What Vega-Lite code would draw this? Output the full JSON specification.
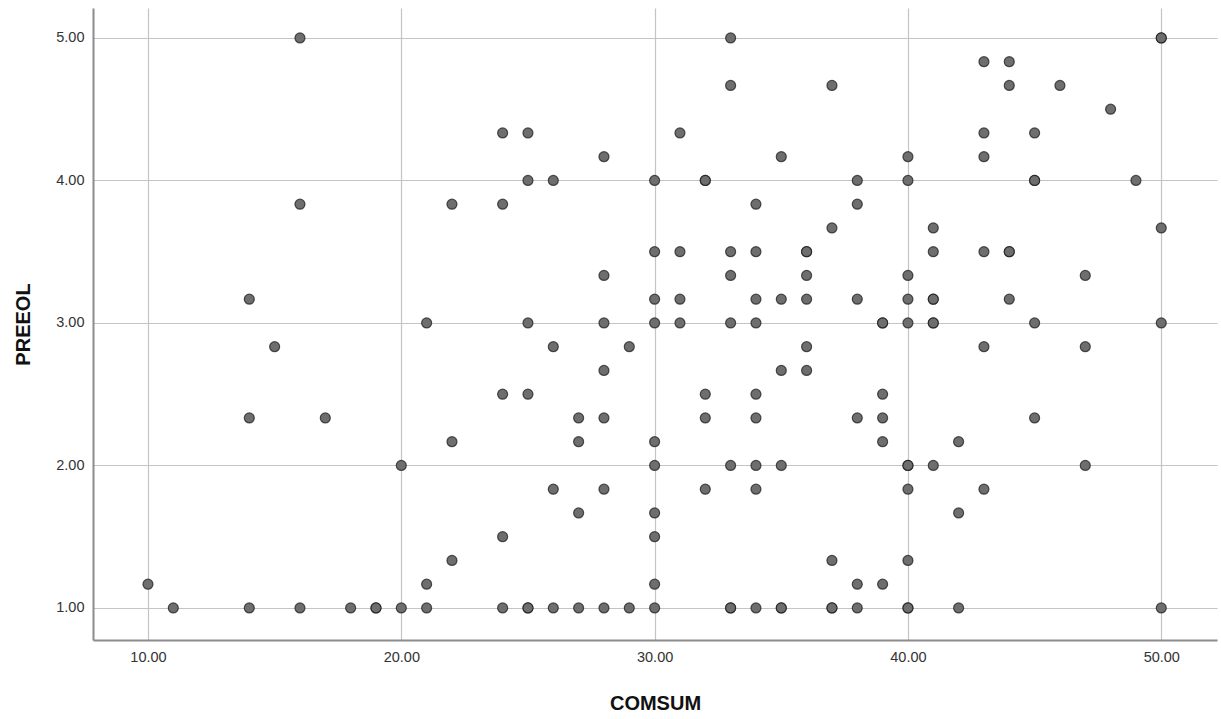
{
  "$schema": "https://vega.github.io/schema/vega-lite/v6.json",
  "width": 1124,
  "height": 632,
  "autosize": {"type": "none"},
  "padding": {"left": 93, "top": 8, "right": 4, "bottom": 79},
  "background": "white",
  "config": {
    "view": {"stroke": null},
    "font": "Liberation Sans",
    "axis": {
      "labelFont": "Liberation Sans",
      "titleFont": "Liberation Sans",
      "labelFontSize": 14.5,
      "labelColor": "#333333",
      "titleFontSize": 20,
      "titleFontWeight": "bold",
      "titleColor": "#111111",
      "gridColor": "#c4c4c4",
      "gridWidth": 1.2,
      "domainColor": "#8c8c8c",
      "domainWidth": 2,
      "ticks": false
    }
  },
  "data": {
    "values": [
      {"COMSUM": 10, "PREEOL": 1.1667},
      {"COMSUM": 11, "PREEOL": 1.0},
      {"COMSUM": 14, "PREEOL": 3.1667},
      {"COMSUM": 14, "PREEOL": 2.3333},
      {"COMSUM": 14, "PREEOL": 1.0},
      {"COMSUM": 15, "PREEOL": 2.8333},
      {"COMSUM": 16, "PREEOL": 5.0},
      {"COMSUM": 16, "PREEOL": 3.8333},
      {"COMSUM": 16, "PREEOL": 1.0},
      {"COMSUM": 17, "PREEOL": 2.3333},
      {"COMSUM": 18, "PREEOL": 1.0},
      {"COMSUM": 19, "PREEOL": 1.0},
      {"COMSUM": 19, "PREEOL": 1.0},
      {"COMSUM": 20, "PREEOL": 2.0},
      {"COMSUM": 20, "PREEOL": 1.0},
      {"COMSUM": 21, "PREEOL": 3.0},
      {"COMSUM": 21, "PREEOL": 1.1667},
      {"COMSUM": 21, "PREEOL": 1.0},
      {"COMSUM": 22, "PREEOL": 3.8333},
      {"COMSUM": 22, "PREEOL": 2.1667},
      {"COMSUM": 22, "PREEOL": 1.3333},
      {"COMSUM": 24, "PREEOL": 4.3333},
      {"COMSUM": 24, "PREEOL": 3.8333},
      {"COMSUM": 24, "PREEOL": 2.5},
      {"COMSUM": 24, "PREEOL": 1.5},
      {"COMSUM": 24, "PREEOL": 1.0},
      {"COMSUM": 25, "PREEOL": 4.3333},
      {"COMSUM": 25, "PREEOL": 4.0},
      {"COMSUM": 25, "PREEOL": 3.0},
      {"COMSUM": 25, "PREEOL": 2.5},
      {"COMSUM": 25, "PREEOL": 1.0},
      {"COMSUM": 25, "PREEOL": 1.0},
      {"COMSUM": 26, "PREEOL": 4.0},
      {"COMSUM": 26, "PREEOL": 2.8333},
      {"COMSUM": 26, "PREEOL": 1.8333},
      {"COMSUM": 26, "PREEOL": 1.0},
      {"COMSUM": 27, "PREEOL": 2.3333},
      {"COMSUM": 27, "PREEOL": 2.1667},
      {"COMSUM": 27, "PREEOL": 1.6667},
      {"COMSUM": 27, "PREEOL": 1.0},
      {"COMSUM": 28, "PREEOL": 4.1667},
      {"COMSUM": 28, "PREEOL": 3.3333},
      {"COMSUM": 28, "PREEOL": 3.0},
      {"COMSUM": 28, "PREEOL": 2.6667},
      {"COMSUM": 28, "PREEOL": 2.3333},
      {"COMSUM": 28, "PREEOL": 1.8333},
      {"COMSUM": 28, "PREEOL": 1.0},
      {"COMSUM": 29, "PREEOL": 2.8333},
      {"COMSUM": 29, "PREEOL": 1.0},
      {"COMSUM": 30, "PREEOL": 4.0},
      {"COMSUM": 30, "PREEOL": 3.5},
      {"COMSUM": 30, "PREEOL": 3.1667},
      {"COMSUM": 30, "PREEOL": 3.0},
      {"COMSUM": 30, "PREEOL": 2.1667},
      {"COMSUM": 30, "PREEOL": 2.0},
      {"COMSUM": 30, "PREEOL": 1.6667},
      {"COMSUM": 30, "PREEOL": 1.5},
      {"COMSUM": 30, "PREEOL": 1.1667},
      {"COMSUM": 30, "PREEOL": 1.0},
      {"COMSUM": 31, "PREEOL": 4.3333},
      {"COMSUM": 31, "PREEOL": 3.5},
      {"COMSUM": 31, "PREEOL": 3.1667},
      {"COMSUM": 31, "PREEOL": 3.0},
      {"COMSUM": 32, "PREEOL": 4.0},
      {"COMSUM": 32, "PREEOL": 4.0},
      {"COMSUM": 32, "PREEOL": 2.5},
      {"COMSUM": 32, "PREEOL": 2.3333},
      {"COMSUM": 32, "PREEOL": 1.8333},
      {"COMSUM": 33, "PREEOL": 5.0},
      {"COMSUM": 33, "PREEOL": 4.6667},
      {"COMSUM": 33, "PREEOL": 3.5},
      {"COMSUM": 33, "PREEOL": 3.3333},
      {"COMSUM": 33, "PREEOL": 3.0},
      {"COMSUM": 33, "PREEOL": 2.0},
      {"COMSUM": 33, "PREEOL": 1.0},
      {"COMSUM": 33, "PREEOL": 1.0},
      {"COMSUM": 34, "PREEOL": 3.8333},
      {"COMSUM": 34, "PREEOL": 3.5},
      {"COMSUM": 34, "PREEOL": 3.1667},
      {"COMSUM": 34, "PREEOL": 3.0},
      {"COMSUM": 34, "PREEOL": 2.5},
      {"COMSUM": 34, "PREEOL": 2.3333},
      {"COMSUM": 34, "PREEOL": 2.0},
      {"COMSUM": 34, "PREEOL": 1.8333},
      {"COMSUM": 34, "PREEOL": 1.0},
      {"COMSUM": 35, "PREEOL": 4.1667},
      {"COMSUM": 35, "PREEOL": 3.1667},
      {"COMSUM": 35, "PREEOL": 2.6667},
      {"COMSUM": 35, "PREEOL": 2.0},
      {"COMSUM": 35, "PREEOL": 1.0},
      {"COMSUM": 35, "PREEOL": 1.0},
      {"COMSUM": 36, "PREEOL": 3.5},
      {"COMSUM": 36, "PREEOL": 3.5},
      {"COMSUM": 36, "PREEOL": 3.3333},
      {"COMSUM": 36, "PREEOL": 3.1667},
      {"COMSUM": 36, "PREEOL": 2.8333},
      {"COMSUM": 36, "PREEOL": 2.6667},
      {"COMSUM": 37, "PREEOL": 4.6667},
      {"COMSUM": 37, "PREEOL": 3.6667},
      {"COMSUM": 37, "PREEOL": 1.3333},
      {"COMSUM": 37, "PREEOL": 1.0},
      {"COMSUM": 37, "PREEOL": 1.0},
      {"COMSUM": 38, "PREEOL": 4.0},
      {"COMSUM": 38, "PREEOL": 3.8333},
      {"COMSUM": 38, "PREEOL": 3.1667},
      {"COMSUM": 38, "PREEOL": 2.3333},
      {"COMSUM": 38, "PREEOL": 1.1667},
      {"COMSUM": 38, "PREEOL": 1.0},
      {"COMSUM": 39, "PREEOL": 3.0},
      {"COMSUM": 39, "PREEOL": 3.0},
      {"COMSUM": 39, "PREEOL": 2.5},
      {"COMSUM": 39, "PREEOL": 2.3333},
      {"COMSUM": 39, "PREEOL": 2.1667},
      {"COMSUM": 39, "PREEOL": 1.1667},
      {"COMSUM": 40, "PREEOL": 4.1667},
      {"COMSUM": 40, "PREEOL": 4.0},
      {"COMSUM": 40, "PREEOL": 3.3333},
      {"COMSUM": 40, "PREEOL": 3.1667},
      {"COMSUM": 40, "PREEOL": 3.0},
      {"COMSUM": 40, "PREEOL": 2.0},
      {"COMSUM": 40, "PREEOL": 2.0},
      {"COMSUM": 40, "PREEOL": 1.8333},
      {"COMSUM": 40, "PREEOL": 1.3333},
      {"COMSUM": 40, "PREEOL": 1.0},
      {"COMSUM": 40, "PREEOL": 1.0},
      {"COMSUM": 41, "PREEOL": 3.6667},
      {"COMSUM": 41, "PREEOL": 3.5},
      {"COMSUM": 41, "PREEOL": 3.1667},
      {"COMSUM": 41, "PREEOL": 3.1667},
      {"COMSUM": 41, "PREEOL": 3.0},
      {"COMSUM": 41, "PREEOL": 3.0},
      {"COMSUM": 41, "PREEOL": 2.0},
      {"COMSUM": 42, "PREEOL": 2.1667},
      {"COMSUM": 42, "PREEOL": 1.6667},
      {"COMSUM": 42, "PREEOL": 1.0},
      {"COMSUM": 43, "PREEOL": 4.8333},
      {"COMSUM": 43, "PREEOL": 4.3333},
      {"COMSUM": 43, "PREEOL": 4.1667},
      {"COMSUM": 43, "PREEOL": 3.5},
      {"COMSUM": 43, "PREEOL": 2.8333},
      {"COMSUM": 43, "PREEOL": 1.8333},
      {"COMSUM": 44, "PREEOL": 4.8333},
      {"COMSUM": 44, "PREEOL": 4.6667},
      {"COMSUM": 44, "PREEOL": 3.5},
      {"COMSUM": 44, "PREEOL": 3.5},
      {"COMSUM": 44, "PREEOL": 3.1667},
      {"COMSUM": 45, "PREEOL": 4.3333},
      {"COMSUM": 45, "PREEOL": 4.0},
      {"COMSUM": 45, "PREEOL": 4.0},
      {"COMSUM": 45, "PREEOL": 3.0},
      {"COMSUM": 45, "PREEOL": 2.3333},
      {"COMSUM": 46, "PREEOL": 4.6667},
      {"COMSUM": 47, "PREEOL": 3.3333},
      {"COMSUM": 47, "PREEOL": 2.8333},
      {"COMSUM": 47, "PREEOL": 2.0},
      {"COMSUM": 48, "PREEOL": 4.5},
      {"COMSUM": 49, "PREEOL": 4.0},
      {"COMSUM": 50, "PREEOL": 5.0},
      {"COMSUM": 50, "PREEOL": 5.0},
      {"COMSUM": 50, "PREEOL": 3.6667},
      {"COMSUM": 50, "PREEOL": 3.0},
      {"COMSUM": 50, "PREEOL": 1.0}
    ]
  },
  "mark": {
    "type": "point",
    "filled": true,
    "shape": "circle",
    "size": 100,
    "fill": "#6e6e6e",
    "fillOpacity": 1,
    "stroke": "#141414",
    "strokeOpacity": 0.7,
    "strokeWidth": 1.2,
    "opacity": 1
  },
  "encoding": {
    "x": {
      "field": "COMSUM",
      "type": "quantitative",
      "scale": {"domain": [7.83, 52.2], "nice": false, "zero": false},
      "axis": {
        "values": [10, 20, 30, 40, 50],
        "format": ".2f",
        "labelPadding": 10,
        "titlePadding": 30,
        "title": "COMSUM"
      }
    },
    "y": {
      "field": "PREEOL",
      "type": "quantitative",
      "scale": {"domain": [0.775, 5.21], "nice": false, "zero": false},
      "axis": {
        "values": [1, 2, 3, 4, 5],
        "format": ".2f",
        "labelPadding": 9,
        "titlePadding": 22,
        "title": "PREEOL"
      }
    }
  }
}
